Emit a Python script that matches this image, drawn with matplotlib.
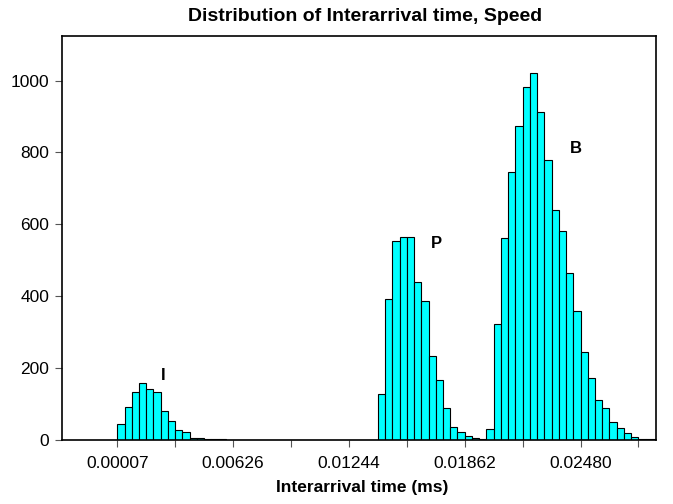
import matplotlib
matplotlib.use('Agg')
import matplotlib.pyplot as plt
import numpy as np

# histogram of interarrival times, bins start at 0.00007 with width 0.00309/8
binStart = 0.00007
binWidth = 0.00309 / 8
counts = [45, 91, 133, 158, 142, 133, 80, 51, 28, 21, 5, 6, 2, 1, 1,
          0, 0, 0, 0, 0, 0, 0, 0, 0, 0, 0, 0, 0, 0, 0, 0, 0, 0, 0, 0, 0,
          128, 392, 554, 565, 565, 440, 387, 233, 165, 88, 35, 22, 9, 6, 2,
          30, 321, 561, 744, 872, 983, 1021, 911, 779, 640, 582, 463, 359,
          244, 172, 110, 87, 48, 32, 19, 8, 2, 2, 1]

tickValues = [0.00007 + k * 0.00309 for k in range(10)]
tickLabels = ['0.00007', '', '0.00626', '', '0.01244', '', '0.01862', '', '0.02480', '']
yTicks = [0, 200, 400, 600, 800, 1000]

peakLabels = ['I', 'P', 'B']
peakX = [0.00251, 0.01712, 0.02455]
peakY = [180, 546, 810]

plt.rcParams['font.family'] = ['Liberation Sans', 'DejaVu Sans']

fig = plt.figure(figsize=(6.73, 5.04), dpi=100)
ax = fig.add_axes([0.0917, 0.1276, 0.8831, 0.8010])

lefts = binStart + binWidth * np.arange(len(counts))
ax.bar(lefts, counts, width=binWidth, align='edge', color='#00FFFF',
       edgecolor='black', linewidth=0.8)

for lab, x, y in zip(peakLabels, peakX, peakY):
    ax.text(x, y, lab, fontsize=12, fontweight='bold', ha='center', va='center')

ax.set_xlim(-0.002897, 0.02882)
ax.set_ylim(0, 1124)
ax.set_xticks(tickValues)
ax.set_xticklabels(tickLabels)
ax.set_yticks(yTicks)
ax.tick_params(axis='both', direction='out', length=5, width=0.8, color='#555555',
               labelsize=12.5, pad=4)
ax.tick_params(axis='x', pad=7)

for s in ax.spines.values():
    s.set_linewidth(1.2)
    s.set_color('black')

ax.set_title('Distribution of Interarrival time, Speed', fontsize=14,
             fontweight='bold', pad=11, x=0.51)
ax.set_xlabel('Interarrival time (ms)', fontsize=12.5, fontweight='bold', labelpad=5)
ax.xaxis.set_label_coords(0.505, -0.1)

fig.savefig('out.png', dpi=100)
